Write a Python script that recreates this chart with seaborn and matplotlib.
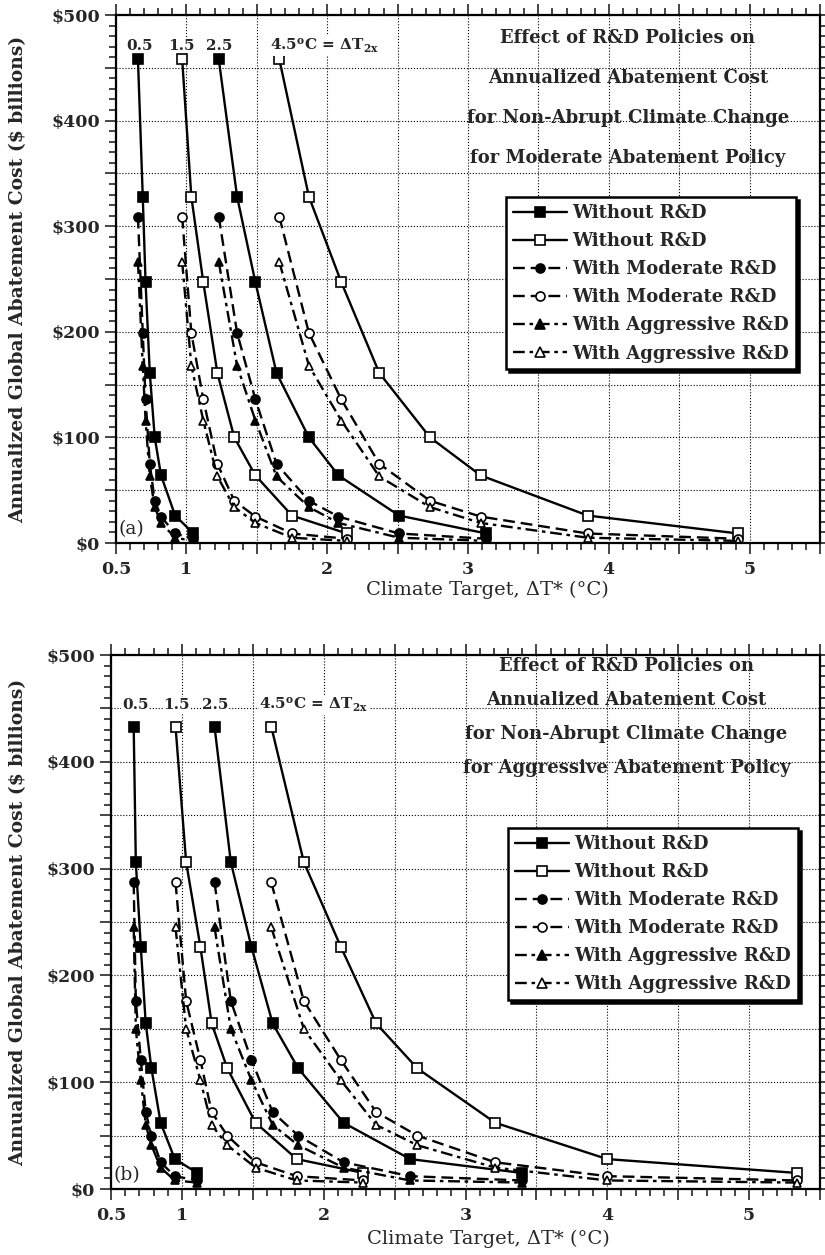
import numpy as np
import matplotlib
matplotlib.use('Agg')
import matplotlib.pyplot as plt
import seaborn as sns
from matplotlib.ticker import FixedLocator, MultipleLocator
from matplotlib.lines import Line2D

# climate sensitivity cases, delta T 2x
dt2x = ['0.5', '1.5', '2.5', '4.5']

# panel (a): moderate abatement policy, cost in $ billions
a_cost_without = [458, 328, 247, 161, 100, 64, 26, 9]
a_cost_moderate = [309, 199, 136, 75, 40, 25, 9, 4]
a_cost_aggressive = [266, 168, 116, 63, 34, 19, 5, 2]
a_target_05 = [0.656, 0.69, 0.71, 0.74, 0.775, 0.82, 0.92, 1.05]
a_target_15 = [0.97, 1.035, 1.12, 1.22, 1.34, 1.49, 1.75, 2.14]
a_target_25 = [1.23, 1.36, 1.49, 1.64, 1.87, 2.08, 2.51, 3.13]
a_target_45 = [1.66, 1.87, 2.10, 2.37, 2.73, 3.09, 3.85, 4.92]

# panel (b): aggressive abatement policy
b_cost_without = [433, 306, 227, 155, 113, 62, 28, 15]
b_cost_moderate = [287, 176, 121, 72, 50, 25, 12, 8]
b_cost_aggressive = [245, 150, 102, 60, 41, 20, 8, 6]
b_target_05 = [0.66, 0.675, 0.71, 0.745, 0.785, 0.85, 0.95, 1.11]
b_target_15 = [0.955, 1.03, 1.13, 1.21, 1.32, 1.52, 1.81, 2.28]
b_target_25 = [1.23, 1.345, 1.49, 1.64, 1.82, 2.14, 2.61, 3.40]
b_target_45 = [1.63, 1.86, 2.12, 2.37, 2.66, 3.21, 4.00, 5.34]

x_ticks = [0.5, 1, 2, 3, 4, 5]
x_ticklabels = ['0.5', '1', '2', '3', '4', '5']
y_ticks = [0, 100, 200, 300, 400, 500]
y_ticklabels = ['$0', '$100', '$200', '$300', '$400', '$500']
legend_labels = ['Without R&D', 'Without R&D', 'With Moderate R&D',
                 'With Moderate R&D', 'With Aggressive R&D', 'With Aggressive R&D']
title_common = ['Effect of R&D Policies on', 'Annualized Abatement Cost',
                'for Non-Abrupt Climate Change']
title_a = 'for Moderate Abatement Policy'
title_b = 'for Aggressive Abatement Policy'

sns.set_style('white')
plt.rcParams['font.family'] = ['DejaVu Serif']
plt.rcParams['mathtext.fontset'] = 'dejavuserif'

styles = [('s', '-'), ('o', (0, (5, 2.5))), ('^', (0, (5, 2, 1.5, 2)))]
LW = 1.7


def draw_panel(ax, targets, costs, title_last, title_y, lab_y, lab_x45, tag,
               leg_anchor, ylab_x, xlab_x, xlab_y):
    for case, xs in zip(dt2x, targets):
        face = 'black' if case in ('0.5', '2.5') else 'white'
        for cost, (mk, ls) in zip(costs, styles):
            sns.lineplot(x=xs, y=cost, ax=ax, color='black', marker=mk,
                         markerfacecolor=face, markeredgecolor='black',
                         markeredgewidth=1.2, markersize=6.5 if mk != '^' else 6,
                         linestyle=ls, lw=LW, estimator=None, sort=False)

    ax.set_xlim(0.5, 5.5)
    ax.set_ylim(0, 500)
    ax.xaxis.set_major_locator(FixedLocator(np.arange(0.5, 5.51, 0.5)))
    ax.set_xticklabels([x_ticklabels[x_ticks.index(v)] if v in x_ticks else ''
                        for v in np.arange(0.5, 5.51, 0.5)])
    ax.xaxis.set_minor_locator(MultipleLocator(0.1))
    ax.yaxis.set_major_locator(FixedLocator(np.arange(0, 501, 50)))
    ax.set_yticklabels([y_ticklabels[y_ticks.index(v)] if v in y_ticks else ''
                        for v in np.arange(0, 501, 50)])
    ax.yaxis.set_minor_locator(MultipleLocator(10))
    ax.grid(True, which='major', color='black', ls=':', lw=0.8)
    ax.tick_params(which='both', direction='out', top=True, right=True,
                   bottom=True, left=True, width=1.2, labelsize=12.5)
    ax.tick_params(which='major', length=8)
    ax.tick_params(which='minor', length=5)
    ax.tick_params(axis='x', which='major', pad=5)
    for lab in ax.get_xticklabels() + ax.get_yticklabels():
        lab.set_fontweight('bold')
    for sp in ax.spines.values():
        sp.set_linewidth(1.6)
        sp.set_color('black')

    ax.set_xlabel('Climate Target, ΔT* (°C)', fontsize=14)
    ax.xaxis.set_label_coords(xlab_x, xlab_y)
    ax.set_ylabel('Annualized Global Abatement Cost ($ billions)', fontsize=13.5,
                  fontweight='bold')
    ax.yaxis.set_label_coords(ylab_x, 0.5)

    for i, line in enumerate(title_common + [title_last]):
        ax.text(0.727, title_y[i], line, transform=ax.transAxes, ha='center',
                va='center', fontsize=13, fontweight='bold')

    bb = dict(facecolor='white', edgecolor='none', pad=0.5)
    lab_x = [0.67, 0.965, 1.235]
    for txt, xv in zip(dt2x[:3], lab_x):
        ax.text(xv, lab_y, txt, ha='center', va='center', fontsize=11,
                fontweight='bold', bbox=bb)
    ax.text(lab_x45, lab_y, r'4.5$^{\mathbf{o}}$C = $\mathbf{\Delta T_{2x}}$',
            ha='left', va='center', fontsize=11, fontweight='bold', bbox=bb)
    ax.text(0.61, 13, tag, ha='center', va='center', fontsize=13.5)

    handles = []
    for mk, ls in styles:
        for face in ('black', 'white'):
            handles.append(Line2D([], [], color='black', marker=mk, markerfacecolor=face,
                                  markeredgecolor='black', markeredgewidth=1.2,
                                  markersize=6.5, linestyle=ls, lw=LW))
    leg = ax.legend(handles, legend_labels, loc='upper left', bbox_to_anchor=leg_anchor,
                    borderaxespad=0, prop={'weight': 'bold', 'size': 13},
                    frameon=True, fancybox=False, framealpha=1, edgecolor='black',
                    handlelength=3.0, handletextpad=0.3, labelspacing=0.56,
                    borderpad=0.38, shadow={'color': 'black', 'alpha': 1})
    leg.get_frame().set_linewidth(1.8)


fig = plt.figure(figsize=(8.25, 12.55), dpi=100)
ax_a = fig.add_axes([116 / 825, 1 - 543 / 1255, 704 / 825, 528 / 1255])
ax_b = fig.add_axes([111 / 825, 1 - 1189 / 1255, 709 / 825, 534 / 1255])

draw_panel(ax_a, [a_target_05, a_target_15, a_target_25, a_target_45],
           [a_cost_without, a_cost_moderate, a_cost_aggressive], title_a,
           [0.956, 0.880, 0.805, 0.729], 471, 1.596, '(a)', (0.554, 0.655),
           -0.126, 0.528, -0.072)
draw_panel(ax_b, [b_target_05, b_target_15, b_target_25, b_target_45],
           [b_cost_without, b_cost_moderate, b_cost_aggressive], title_b,
           [0.979, 0.916, 0.852, 0.788], 453, 1.546, '(b)', (0.56, 0.676),
           -0.118, 0.532, -0.077)

fig.savefig('out.png', dpi=100)
